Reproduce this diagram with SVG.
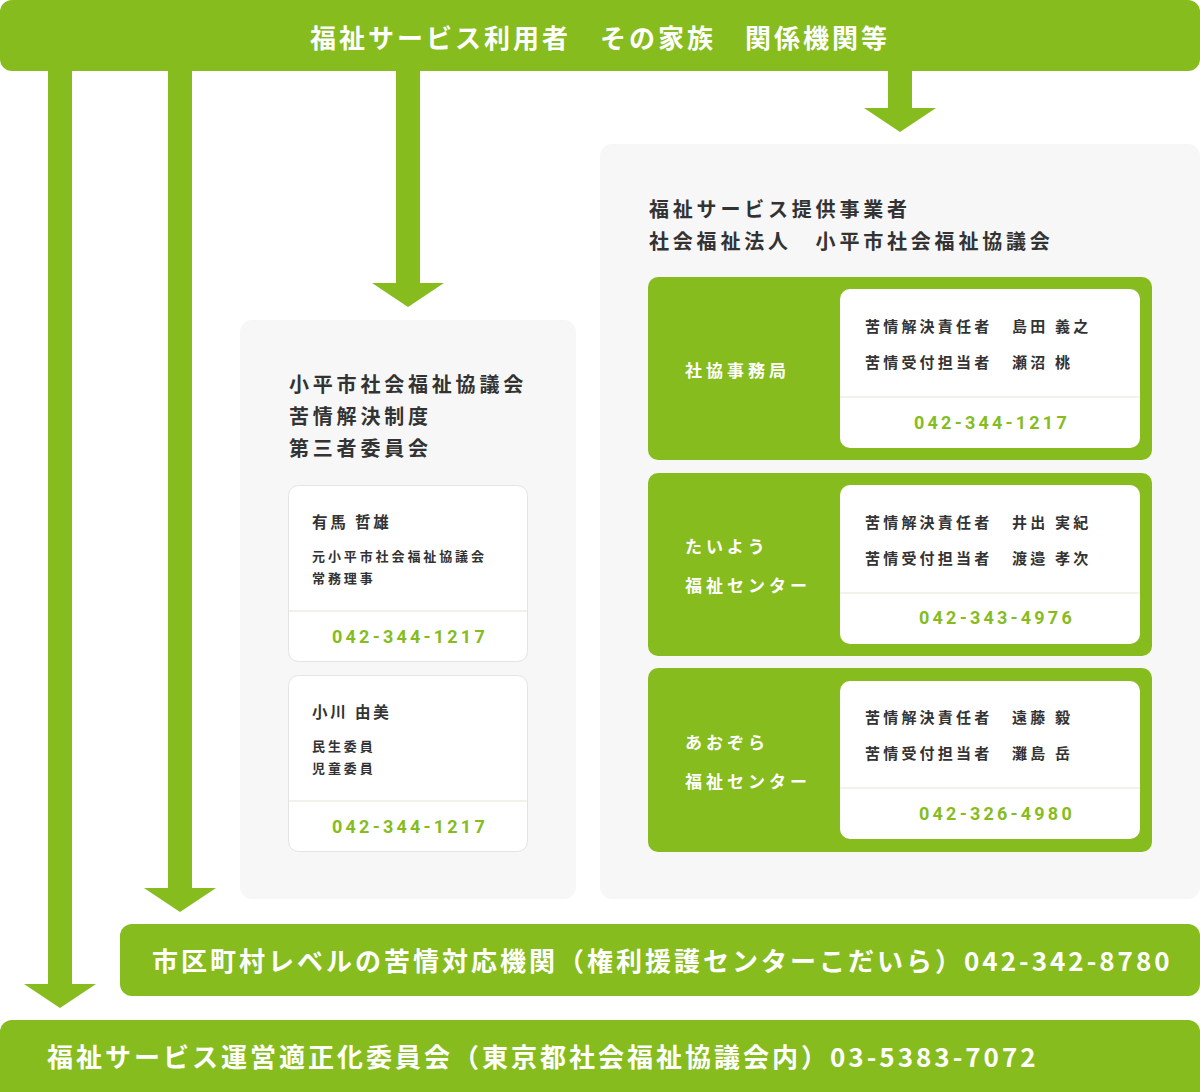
<svg xmlns="http://www.w3.org/2000/svg" width="1200" height="1092" viewBox="0 0 1200 1092">
<style>
text{font-family:"Noto Sans CJK JP","Noto Sans",sans-serif;font-weight:700}
.g{fill:#86bc1e}
.panel{fill:#f7f7f7}
.wt{fill:#fff}
.bar{fill:#fff;font-size:26px;letter-spacing:3px}
.ttl{fill:#333;font-size:20px;letter-spacing:3.8px}
.nm{fill:#333;font-size:15.5px;letter-spacing:2.8px}
.sub{fill:#333;font-size:13px;letter-spacing:2.9px}
.row{fill:#333;font-size:15px;letter-spacing:3.2px}
.lbl{fill:#fff;font-size:17px;letter-spacing:4px}
.ph{fill:#86bc1e;font-family:Roboto,"Open Sans",sans-serif;font-size:18px;letter-spacing:3.2px;text-anchor:middle}
.card{fill:#fff;stroke:#e4e4e4;stroke-width:1}
.div{stroke:#f1f2ea;stroke-width:2}
.shaft{stroke:#86bc1e;stroke-width:24;fill:none}
</style>
<defs>
<marker id="ah" viewBox="0 0 24 72" markerWidth="24" markerHeight="72" markerUnits="userSpaceOnUse" refX="0" refY="36" orient="auto">
<path d="M0,0 L24,36 L0,72 Z" fill="#86bc1e"/>
</marker>
</defs>

<g id="connectors">
<line class="shaft" x1="60" y1="60" x2="60" y2="984" marker-end="url(#ah)"/>
<line class="shaft" x1="180" y1="60" x2="180" y2="888" marker-end="url(#ah)"/>
<line class="shaft" x1="408" y1="60" x2="408" y2="283" marker-end="url(#ah)"/>
<line class="shaft" x1="900" y1="60" x2="900" y2="108" marker-end="url(#ah)"/>
</g>

<g id="users">
<rect class="g" x="0" y="0" width="1200" height="71" rx="12"/>
<text class="bar" x="600" y="48" text-anchor="middle">福祉サービス利用者　その家族　関係機関等</text>
</g>

<g id="committee">
<rect class="panel" x="240" y="320" width="336" height="579" rx="12"/>
<text class="ttl" x="289" y="392">小平市社会福祉協議会</text>
<text class="ttl" x="289" y="424">苦情解決制度</text>
<text class="ttl" x="289" y="456">第三者委員会</text>
</g>

<g id="member-arima">
<rect class="card" x="288.5" y="485.5" width="239" height="176" rx="10"/>
<line class="div" x1="289" y1="611" x2="527" y2="611"/>
<text class="nm" x="312" y="528">有馬 哲雄</text>
<text class="sub" x="312" y="561">元小平市社会福祉協議会</text>
<text class="sub" x="312" y="583">常務理事</text>
<text class="ph" x="410" y="643">042-344-1217</text>
</g>

<g id="member-ogawa">
<rect class="card" x="288.5" y="675.5" width="239" height="176" rx="10"/>
<line class="div" x1="289" y1="801" x2="527" y2="801"/>
<text class="nm" x="312" y="718">小川 由美</text>
<text class="sub" x="312" y="751">民生委員</text>
<text class="sub" x="312" y="773">児童委員</text>
<text class="ph" x="410" y="833">042-344-1217</text>
</g>

<g id="provider">
<rect class="panel" x="600" y="144" width="600" height="755" rx="12"/>
<text class="ttl" x="649" y="217">福祉サービス提供事業者</text>
<text class="ttl" x="649" y="249">社会福祉法人　小平市社会福祉協議会</text>
</g>

<g id="office">
<rect class="g" x="648" y="277" width="504" height="183" rx="10"/>
<text class="lbl" x="685" y="377">社協事務局</text>
<rect class="wt" x="840" y="289" width="300" height="159" rx="10"/>
<line class="div" x1="840" y1="397" x2="1140" y2="397"/>
<text class="row" x="865" y="332">苦情解決責任者<tspan x="1012">島田 義之</tspan></text>
<text class="row" x="865" y="368">苦情受付担当者<tspan x="1012">瀬沼 桃</tspan></text>
<text class="ph" x="992" y="429">042-344-1217</text>
</g>

<g id="taiyou">
<rect class="g" x="648" y="473" width="504" height="183" rx="10"/>
<text class="lbl" x="685" y="553">たいよう</text>
<text class="lbl" x="685" y="592">福祉センター</text>
<rect class="wt" x="840" y="485" width="300" height="159" rx="10"/>
<line class="div" x1="840" y1="593" x2="1140" y2="593"/>
<text class="row" x="865" y="528">苦情解決責任者<tspan x="1012">井出 実紀</tspan></text>
<text class="row" x="865" y="564">苦情受付担当者<tspan x="1012">渡邉 孝次</tspan></text>
<text class="ph" x="997" y="624">042-343-4976</text>
</g>

<g id="aozora">
<rect class="g" x="648" y="668" width="504" height="184" rx="10"/>
<text class="lbl" x="685" y="749">あおぞら</text>
<text class="lbl" x="685" y="788">福祉センター</text>
<rect class="wt" x="840" y="681" width="300" height="158" rx="10"/>
<line class="div" x1="840" y1="788" x2="1140" y2="788"/>
<text class="row" x="865" y="723">苦情解決責任者<tspan x="1012">遠藤 毅</tspan></text>
<text class="row" x="865" y="759">苦情受付担当者<tspan x="1012">灘島 岳</tspan></text>
<text class="ph" x="997" y="820">042-326-4980</text>
</g>

<g id="municipal">
<rect class="g" x="120" y="924" width="1080" height="72" rx="12"/>
<text class="bar" x="152" y="971">市区町村レベルの苦情対応機関（権利援護センターこだいら）042-342-8780</text>
</g>

<g id="tokyo">
<rect class="g" x="0" y="1020" width="1200" height="84" rx="12"/>
<text class="bar" x="47" y="1067">福祉サービス運営適正化委員会（東京都社会福祉協議会内）03-5383-7072</text>
</g>
</svg>
